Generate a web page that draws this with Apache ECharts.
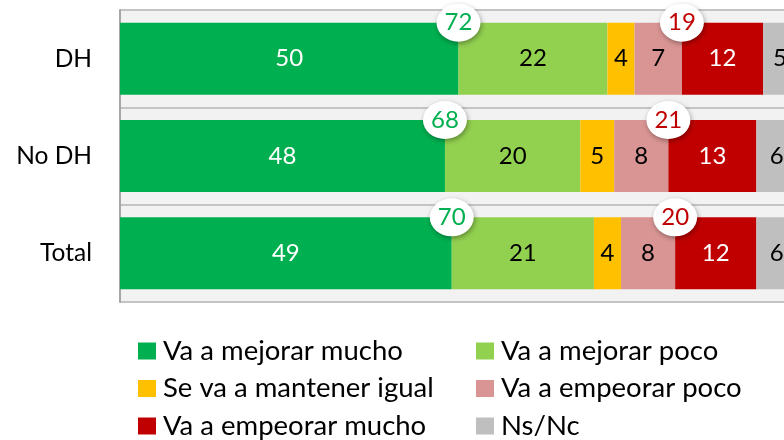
<!DOCTYPE html>
<html><head><meta charset="utf-8">
<script src="https://cdn.jsdelivr.net/npm/echarts@6/dist/echarts.min.js"></script>
<style>html,body{margin:0;padding:0;background:#fff}#c{width:784px;height:440px}</style>
</head><body><div id="c"></div>
<script>
const categories = ['DH', 'No DH', 'Total'];
const seriesNames = ['Va a mejorar mucho', 'Va a mejorar poco', 'Se va a mantener igual', 'Va a empeorar poco', 'Va a empeorar mucho', 'Ns/Nc'];
const mejorarMucho = [50, 48, 49];
const mejorarPoco = [22, 20, 21];
const mantenerIgual = [4, 5, 4];
const empeorarPoco = [7, 8, 8];
const empeorarMucho = [12, 13, 12];
const nsnc = [5, 6, 6];
const totalMejorar = [72, 68, 70];
const totalEmpeorar = [19, 21, 20];

const colors = ['#00b050', '#92d050', '#ffc000', '#d99594', '#c00000', '#bfbfbf'];
const labelColors = ['#ffffff', '#000000', '#000000', '#000000', '#ffffff', '#000000'];
const values = [mejorarMucho, mejorarPoco, mantenerIgual, empeorarPoco, empeorarMucho, nsnc];
const FONT = 'Lato';

const series = values.map((v, i) => ({
  name: seriesNames[i], type: 'bar', stack: 's', barWidth: 72, clip: false,
  data: v, itemStyle: { color: colors[i] },
  label: { show: true, position: 'inside', fontSize: 24, fontFamily: FONT, color: labelColors[i] },
  emphasis: { disabled: true }, z: 2
}));

function bubble(xs, color) {
  return {
    type: 'scatter', symbol: 'circle', symbolSize: [44, 38], symbolOffset: [0, -36], clip: false,
    data: xs.map((x, i) => ({ value: [x.pos, i], total: x.total })),
    itemStyle: { color: '#ffffff', shadowColor: 'rgba(0,0,0,0.35)', shadowBlur: 5, shadowOffsetX: 1, shadowOffsetY: 2, opacity: 1 },
    label: { show: true, position: 'inside', fontSize: 24, fontFamily: FONT, color: color,
      formatter: p => p.data.total },
    z: 5, silent: true
  };
}
const posMej = mejorarMucho.map((v, i) => ({ pos: v, total: totalMejorar[i] }));
const posEmp = mejorarMucho.map((v, i) => ({ pos: v + mejorarPoco[i] + mantenerIgual[i] + empeorarPoco[i], total: totalEmpeorar[i] }));
series.push(bubble(posMej, '#00b050'));
series.push(bubble(posEmp, '#c00000'));

const legendPos = [[138, 351], [476, 351], [138, 388.5], [476, 388.5], [138, 426], [476, 426]];
const legends = seriesNames.map((n, i) => ({
  data: [n], left: legendPos[i][0], top: legendPos[i][1] - 15, icon: 'rect', itemWidth: 18, itemHeight: 17, itemGap: 5,
  textStyle: { fontSize: 27.5, fontFamily: FONT, color: '#000', lineHeight: 30, padding: [0, 0, 0, 2] },
  selectedMode: false, padding: 0
}));

const chart = echarts.init(document.getElementById('c'));
chart.setOption({
  animation: false,
  legend: legends,
  grid: { left: 120, top: 10, width: 677, height: 292, show: true, backgroundColor: '#f2f2f2', borderWidth: 0, outerBoundsMode: 'none', containLabel: false },
  xAxis: { type: 'value', min: 0, max: 100, show: false },
  yAxis: { type: 'category', data: categories, inverse: true,
    axisLine: { show: true, lineStyle: { color: '#a6a6a6', width: 2 } },
    axisTick: { show: false },
    axisLabel: { fontSize: 24.5, fontFamily: FONT, color: '#000', margin: 28 },
    splitLine: { show: true, lineStyle: { color: '#c4c4c4', width: 2 } } },
  series: series
});
</script></body></html>
